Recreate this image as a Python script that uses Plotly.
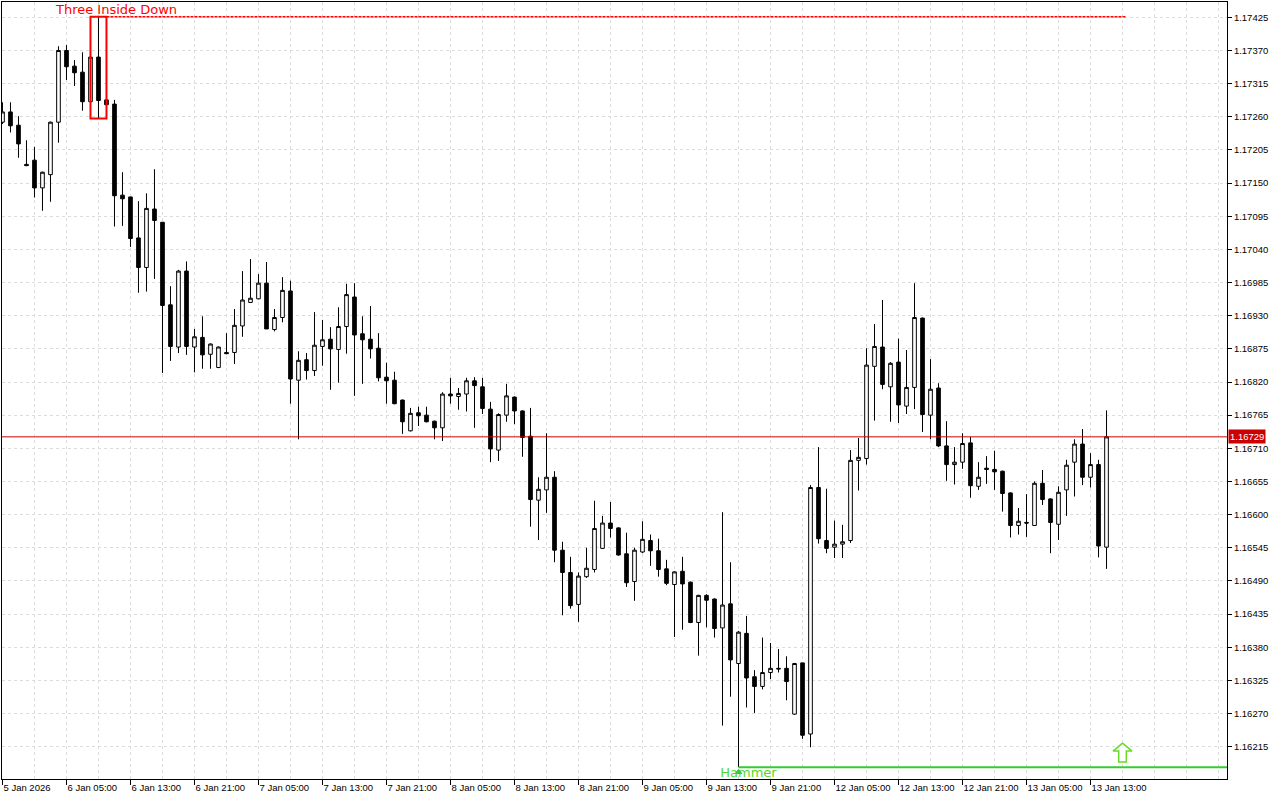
import plotly.graph_objects as go

# ---------------- data (EURUSD H1, bar 0 = 5 Jan 21:00) ----------------
bar_index = list(range(139))

open_ = [1.17251, 1.17268, 1.17246, 1.17181, 1.17188, 1.17142, 1.17164, 1.17251, 1.17370, 1.17344,
         1.17334, 1.17285, 1.17359, 1.17288, 1.17281, 1.17130, 1.17127, 1.17059, 1.17010, 1.17107,
         1.17085, 1.16948, 1.16878, 1.17004, 1.16878, 1.16894, 1.16866, 1.16844, 1.16869, 1.16869,
         1.16913, 1.16952, 1.16958, 1.16984, 1.16907, 1.16927, 1.16971, 1.16823, 1.16857, 1.16839,
         1.16879, 1.16891, 1.16874, 1.16912, 1.16961, 1.16900, 1.16891, 1.16876, 1.16828, 1.16823,
         1.16790, 1.16739, 1.16769, 1.16765, 1.16755, 1.16744, 1.16800, 1.16796, 1.16800, 1.16822,
         1.16812, 1.16775, 1.16707, 1.16765, 1.16795, 1.16772, 1.16730, 1.16624, 1.16641, 1.16662,
         1.16541, 1.16504, 1.16451, 1.16497, 1.16509, 1.16544, 1.16586, 1.16578, 1.16535, 1.16489,
         1.16538, 1.16557, 1.16540, 1.16510, 1.16484, 1.16506, 1.16488, 1.16421, 1.16466, 1.16460,
         1.16412, 1.16452, 1.16353, 1.16403, 1.16331, 1.16315, 1.16338, 1.16345, 1.16345, 1.16269,
         1.16354, 1.16236, 1.16645, 1.16557, 1.16546, 1.16551, 1.16557, 1.16690, 1.16693, 1.16846,
         1.16878, 1.16812, 1.16853, 1.16780, 1.16811, 1.16926, 1.16765, 1.16810, 1.16714, 1.16683,
         1.16687, 1.16719, 1.16647, 1.16677, 1.16675, 1.16672, 1.16636, 1.16582, 1.16587, 1.16582,
         1.16652, 1.16626, 1.16584, 1.16641, 1.16687, 1.16717, 1.16662, 1.16683, 1.16546]

high = [1.17284, 1.17284, 1.17261, 1.17221, 1.17210, 1.17169, 1.17252, 1.17377, 1.17379, 1.17354,
        1.17367, 1.17370, 1.17426, 1.17385, 1.17288, 1.17168, 1.17127, 1.17120, 1.17133, 1.17173,
        1.17085, 1.16979, 1.17006, 1.17020, 1.16908, 1.16929, 1.16884, 1.16879, 1.16901, 1.16941,
        1.17004, 1.17024, 1.16999, 1.17019, 1.16941, 1.16994, 1.16988, 1.16871, 1.16868, 1.16936,
        1.16923, 1.16911, 1.16944, 1.16983, 1.16984, 1.16929, 1.16946, 1.16901, 1.16852, 1.16837,
        1.16791, 1.16777, 1.16779, 1.16779, 1.16756, 1.16803, 1.16827, 1.16810, 1.16827, 1.16828,
        1.16827, 1.16787, 1.16768, 1.16817, 1.16796, 1.16773, 1.16777, 1.16662, 1.16735, 1.16672,
        1.16555, 1.16530, 1.16504, 1.16545, 1.16623, 1.16598, 1.16621, 1.16579, 1.16570, 1.16545,
        1.16589, 1.16567, 1.16560, 1.16525, 1.16506, 1.16530, 1.16489, 1.16467, 1.16468, 1.16461,
        1.16604, 1.16521, 1.16407, 1.16432, 1.16342, 1.16396, 1.16387, 1.16377, 1.16365, 1.16354,
        1.16354, 1.16649, 1.16712, 1.16643, 1.16590, 1.16583, 1.16707, 1.16727, 1.16876, 1.16916,
        1.16956, 1.16853, 1.16892, 1.16873, 1.16984, 1.16927, 1.16858, 1.16818, 1.16755, 1.16712,
        1.16735, 1.16729, 1.16687, 1.16697, 1.16706, 1.16673, 1.16637, 1.16611, 1.16634, 1.16655,
        1.16674, 1.16627, 1.16647, 1.16691, 1.16725, 1.16742, 1.16702, 1.16691, 1.16773]

low = [1.17248, 1.17234, 1.17192, 1.17178, 1.17126, 1.17104, 1.17119, 1.17217, 1.17321, 1.17311,
       1.17270, 1.17283, 1.17257, 1.17278, 1.17078, 1.17079, 1.17044, 1.16968, 1.16970, 1.16991,
       1.16835, 1.16855, 1.16868, 1.16865, 1.16836, 1.16842, 1.16842, 1.16843, 1.16866, 1.16850,
       1.16895, 1.16951, 1.16957, 1.16908, 1.16904, 1.16919, 1.16784, 1.16725, 1.16824, 1.16830,
       1.16847, 1.16807, 1.16819, 1.16867, 1.16797, 1.16817, 1.16859, 1.16821, 1.16784, 1.16783,
       1.16734, 1.16738, 1.16747, 1.16753, 1.16725, 1.16722, 1.16784, 1.16774, 1.16771, 1.16744,
       1.16767, 1.16687, 1.16689, 1.16754, 1.16750, 1.16696, 1.16580, 1.16558, 1.16603, 1.16521,
       1.16433, 1.16444, 1.16422, 1.16495, 1.16504, 1.16543, 1.16562, 1.16532, 1.16480, 1.16457,
       1.16536, 1.16515, 1.16497, 1.16483, 1.16397, 1.16409, 1.16420, 1.16366, 1.16413, 1.16396,
       1.16250, 1.16298, 1.16181, 1.16280, 1.16271, 1.16310, 1.16327, 1.16338, 1.16292, 1.16268,
       1.16228, 1.16214, 1.16552, 1.16536, 1.16528, 1.16528, 1.16553, 1.16640, 1.16683, 1.16756,
       1.16808, 1.16754, 1.16752, 1.16767, 1.16775, 1.16737, 1.16725, 1.16712, 1.16656, 1.16650,
       1.16676, 1.16628, 1.16641, 1.16651, 1.16641, 1.16605, 1.16562, 1.16567, 1.16563, 1.16581,
       1.16616, 1.16536, 1.16558, 1.16598, 1.16630, 1.16649, 1.16645, 1.16529, 1.16510]

close = [1.17268, 1.17245, 1.17215, 1.17179, 1.17142, 1.17168, 1.17251, 1.17370, 1.17343, 1.17333,
         1.17285, 1.17359, 1.17287, 1.17280, 1.17129, 1.17124, 1.17058, 1.17010, 1.17108, 1.17088,
         1.16947, 1.16879, 1.17004, 1.16879, 1.16895, 1.16865, 1.16883, 1.16878, 1.16867, 1.16914,
         1.16956, 1.16959, 1.16984, 1.16908, 1.16927, 1.16972, 1.16825, 1.16856, 1.16839, 1.16881,
         1.16890, 1.16875, 1.16912, 1.16965, 1.16898, 1.16890, 1.16875, 1.16827, 1.16822, 1.16784,
         1.16754, 1.16768, 1.16764, 1.16754, 1.16744, 1.16800, 1.16797, 1.16801, 1.16822, 1.16814,
         1.16776, 1.16709, 1.16766, 1.16797, 1.16772, 1.16728, 1.16625, 1.16642, 1.16662, 1.16541,
         1.16504, 1.16449, 1.16498, 1.16511, 1.16577, 1.16586, 1.16577, 1.16533, 1.16487, 1.16541,
         1.16559, 1.16540, 1.16509, 1.16486, 1.16505, 1.16485, 1.16421, 1.16466, 1.16458, 1.16411,
         1.16450, 1.16359, 1.16405, 1.16329, 1.16315, 1.16338, 1.16345, 1.16344, 1.16323, 1.16353,
         1.16234, 1.16645, 1.16560, 1.16544, 1.16551, 1.16555, 1.16690, 1.16695, 1.16848, 1.16879,
         1.16816, 1.16851, 1.16782, 1.16811, 1.16927, 1.16766, 1.16808, 1.16714, 1.16683, 1.16687,
         1.16718, 1.16648, 1.16662, 1.16675, 1.16671, 1.16635, 1.16582, 1.16589, 1.16586, 1.16652,
         1.16625, 1.16587, 1.16637, 1.16682, 1.16717, 1.16662, 1.16683, 1.16548, 1.16729]

tick_bars = [0, 8, 16, 24, 32, 40, 48, 56, 64, 72, 80, 88, 96, 104, 112, 120, 128, 136]
tick_labels = ["5 Jan 2026", "6 Jan 05:00", "6 Jan 13:00", "6 Jan 21:00", "7 Jan 05:00",
               "7 Jan 13:00", "7 Jan 21:00", "8 Jan 05:00", "8 Jan 13:00", "8 Jan 21:00",
               "9 Jan 05:00", "9 Jan 13:00", "9 Jan 21:00", "12 Jan 05:00", "12 Jan 13:00",
               "12 Jan 21:00", "13 Jan 05:00", "13 Jan 13:00"]
price_ticks = [1.16215, 1.16270, 1.16325, 1.16380, 1.16435, 1.16490, 1.16545, 1.16600,
               1.16655, 1.16710, 1.16765, 1.16820, 1.16875, 1.16930, 1.16985, 1.17040,
               1.17095, 1.17150, 1.17205, 1.17260, 1.17315, 1.17370, 1.17425]

# pattern annotations
pattern_name = "Three Inside Down"
pattern_bars = [11, 13]
pattern_high = 1.17426
pattern_low = 1.17257
pattern_line_end_bar = 140.5

hammer_name = "Hammer"
hammer_bar = 92
hammer_low = 1.16181
signal_arrow_bar = 140
signal_arrow_price = 1.16221

current_price = close[-1]

# ---------------- layout geometry ----------------
W, H = 1280, 800
M = dict(l=2, r=53, t=2, b=21)
x_range = [-0.06, 153.06]
y_range = [1.161614, 1.174504]
px_per_bar = (W - M["l"] - M["r"]) / (x_range[1] - x_range[0])
px_per_price = (H - M["t"] - M["b"]) / (y_range[1] - y_range[0])

GREEN = "#33cc33"
RED = "#ff0000"
PRICE_RED = "#cc0000"
GRID = "#dcdcdc"

fig = go.Figure()

fig.add_trace(go.Candlestick(
    x=bar_index, open=open_, high=high, low=low, close=close,
    increasing=dict(line=dict(color="black", width=1), fillcolor="white"),
    decreasing=dict(line=dict(color="black", width=1), fillcolor="black"),
    whiskerwidth=0, showlegend=False, hoverinfo="skip",
))

# hammer text + small marker (clipped to plot area like the original)
fig.add_trace(go.Scatter(
    x=[hammer_bar + 10 / px_per_bar], y=[hammer_low], mode="text",
    text=[hammer_name], textposition="bottom center",
    textfont=dict(family="DejaVu Sans", size=13, color="#55d62a"),
    cliponaxis=True, showlegend=False, hoverinfo="skip",
))
fig.add_trace(go.Scatter(
    x=[hammer_bar], y=[hammer_low - 5 / px_per_price], mode="markers",
    marker=dict(symbol="triangle-up", size=7, color=GREEN),
    cliponaxis=True, showlegend=False, hoverinfo="skip",
))

# hollow block arrow (buy signal)
arrow_px = [(0, 0), (9.5, 8), (3.8, 8), (3.8, 19), (-3.8, 19), (-3.8, 8), (-9.5, 8), (0, 0)]
fig.add_trace(go.Scatter(
    x=[signal_arrow_bar + dx / px_per_bar for dx, dy in arrow_px],
    y=[signal_arrow_price - dy / px_per_price for dx, dy in arrow_px],
    mode="lines", fill="toself", fillcolor="white",
    line=dict(color="#66dd22", width=1.5),
    showlegend=False, hoverinfo="skip",
))

shapes = [
    # current price line
    dict(type="line", xref="paper", x0=0, x1=1, yref="y", y0=current_price, y1=current_price,
         line=dict(color=PRICE_RED, width=1), layer="above"),
    # pattern box
    dict(type="rect", xref="x", x0=pattern_bars[0], x1=pattern_bars[1], yref="y",
         y0=pattern_low, y1=pattern_high, line=dict(color=RED, width=2), layer="above"),
    # pattern extension
    dict(type="line", xref="x", x0=pattern_bars[1], x1=pattern_line_end_bar, yref="y",
         y0=pattern_high, y1=pattern_high, line=dict(color=RED, width=1.5, dash="3px,1px"),
         layer="above"),
    # hammer level
    dict(type="line", xref="x", x0=hammer_bar, x1=x_range[1], yref="y",
         y0=hammer_low, y1=hammer_low, line=dict(color=GREEN, width=2), layer="above"),
]

annotations = [
    dict(text=pattern_name, xref="x", x=pattern_bars[0], xshift=26, yref="y", y=pattern_high,
         yshift=7, showarrow=False, xanchor="center", yanchor="middle",
         font=dict(family="DejaVu Sans", size=13, color=RED)),
    dict(text=f"{current_price:.5f}", xref="paper", x=1, xanchor="left", xshift=1,
         yref="y", y=current_price, yanchor="middle", showarrow=False,
         bgcolor=PRICE_RED, borderpad=1,
         font=dict(family="Liberation Sans", size=9.5, color="white")),
]

fig.update_layout(
    width=W, height=H, margin=M,
    paper_bgcolor="white", plot_bgcolor="white",
    showlegend=False, boxgap=0.35,
    shapes=shapes, annotations=annotations,
    font=dict(family="Liberation Sans", size=9.5, color="black"),
    xaxis=dict(
        range=x_range, rangeslider=dict(visible=False),
        tickmode="array", tickvals=tick_bars, ticktext=tick_labels,
        ticks="outside", ticklen=5, tickcolor="black", ticklabelposition="outside right",
        showgrid=True, gridcolor=GRID, griddash="3px,3px", gridwidth=1,
        minor=dict(tick0=0, dtick=4, showgrid=True, gridcolor=GRID, griddash="3px,3px", ticks=""),
        showline=True, linecolor="black", linewidth=1, mirror=True,
        zeroline=False, fixedrange=True,
    ),
    yaxis=dict(
        range=y_range, side="right",
        tickmode="array", tickvals=price_ticks, tickformat=".5f",
        ticks="outside", ticklen=4, tickcolor="black",
        showgrid=True, gridcolor=GRID, griddash="3px,3px", gridwidth=1,
        showline=True, linecolor="black", linewidth=1, mirror=True,
        zeroline=False, fixedrange=True,
    ),
)

fig.write_html("out.html", config={"displayModeBar": False},
               post_script="document.body.style.margin='0';document.body.style.overflow='hidden';")
